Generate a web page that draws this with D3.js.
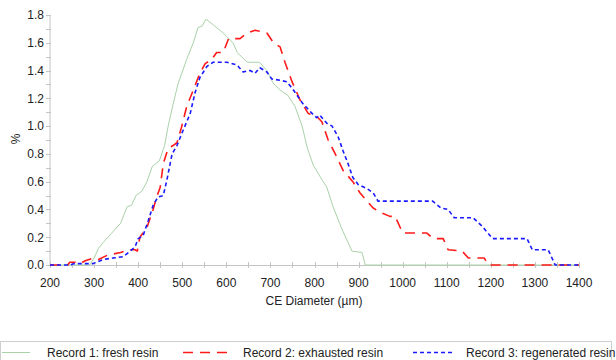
<!DOCTYPE html>
<html><head><meta charset="utf-8">
<script src="https://cdn.jsdelivr.net/npm/d3@7"></script>
<style>body{margin:0;background:#fff}svg{display:block;font-family:"Liberation Sans",Arial,sans-serif}</style>
</head><body><svg id="c" width="616" height="360"></svg>
<script>
const xTicks = [200,300,400,500,600,700,800,900,1000,1100,1200,1300,1400];
const yTicks = [0.0,0.2,0.4,0.6,0.8,1.0,1.2,1.4,1.6,1.8];
const seriesNames = ["Record 1: fresh resin","Record 2: exhausted resin","Record 3: regenerated resin"];

const freshD = [200,290,300,310,320,340,360,375,385,395,408,420,432,448,460,468,478,490,510,525,536,545,554,570,593,615,625,647,675,692,706,722,740,756,772,783,797,812,828,842,862,885,908,915,1400];
const freshV = [0,0,0.05,0.12,0.16,0.23,0.30,0.42,0.43,0.50,0.53,0.60,0.71,0.75,0.86,1.0,1.14,1.30,1.48,1.60,1.71,1.72,1.77,1.73,1.67,1.60,1.53,1.46,1.46,1.40,1.31,1.26,1.22,1.14,1.0,0.85,0.72,0.64,0.56,0.42,0.26,0.10,0.09,0,0];

const exhD = [200,240,245,262,268,280,298,310,330,360,378,393,398,404,420,434,442,450,457,468,479,488,499,510,525,540,552,567,578,593,605,631,647,665,681,692,707,722,733,749,767,786,805,817,831,847,865,887,903,919,933,949,971,983,1000,1055,1069,1092,1103,1135,1149,1185,1195,1400];
const exhV = [0,0,0.02,0.02,0.01,0.03,0.05,0.04,0.07,0.09,0.11,0.11,0.10,0.20,0.27,0.40,0.49,0.56,0.73,0.84,0.86,0.88,1.0,1.14,1.26,1.38,1.45,1.48,1.53,1.53,1.63,1.63,1.67,1.69,1.68,1.67,1.60,1.57,1.46,1.32,1.19,1.09,1.07,1.03,0.90,0.80,0.68,0.60,0.52,0.46,0.41,0.38,0.35,0.35,0.23,0.23,0.19,0.19,0.11,0.10,0.05,0.05,0,0];

const regD = [200,245,255,285,298,321,343,366,382,393,400,411,423,434,445,457,465,477,488,502,518,529,540,556,570,601,624,638,654,665,676,692,703,722,737,750,774,795,805,812,828,840,854,865,876,887,899,919,933,944,1068,1087,1103,1117,1160,1180,1204,1282,1294,1330,1346,1400];
const regV = [0,0,0.01,0.01,0.01,0.04,0.05,0.06,0.10,0.13,0.19,0.21,0.32,0.43,0.49,0.50,0.61,0.80,0.86,0.97,1.09,1.24,1.35,1.43,1.46,1.46,1.44,1.39,1.40,1.38,1.42,1.39,1.34,1.33,1.32,1.27,1.16,1.09,1.06,1.08,1.02,1.0,0.92,0.82,0.73,0.63,0.58,0.55,0.52,0.46,0.46,0.41,0.40,0.34,0.34,0.28,0.19,0.19,0.11,0.11,0,0];

const svg = d3.select("#c");
const x = d3.scaleLinear().domain([200,1400]).range([50,579]);
const y = d3.scaleLinear().domain([0,1.8]).range([265,15]);
const axisCol = "#c4c4c4", textCol = "#222";

// y axis
const gy = svg.append("g");
gy.append("line").attr("x1",x(200)).attr("x2",x(200)).attr("y1",y(0)).attr("y2",y(1.8)).attr("stroke",axisCol);
gy.selectAll(".yt").data(d3.range(0,19).map(i=>i*0.1)).enter().append("line")
  .attr("x1",46).attr("x2",51).attr("y1",d=>Math.round(y(d))+0.5).attr("y2",d=>Math.round(y(d))+0.5).attr("stroke",axisCol);
gy.selectAll(".yl").data(yTicks).enter().append("text")
  .attr("x",44).attr("y",d=>y(d)).attr("dy","0.36em").attr("text-anchor","end")
  .attr("font-size",12).attr("fill",textCol).text(d=>d.toFixed(1));

// x axis
const gx = svg.append("g");
gx.selectAll(".xt").data(d3.range(200,1401,50)).enter().append("line")
  .attr("x1",d=>Math.round(x(d))+0.5).attr("x2",d=>Math.round(x(d))+0.5).attr("y1",262).attr("y2",268).attr("stroke",axisCol);
gx.selectAll(".xl").data(xTicks).enter().append("text")
  .attr("x",d=>x(d)).attr("y",287).attr("text-anchor","middle")
  .attr("font-size",12).attr("fill",textCol).text(d=>d);

svg.append("text").attr("x",314).attr("y",305).attr("text-anchor","middle").attr("font-size",12).attr("fill",textCol).text("CE Diameter (µm)");
svg.append("text").attr("transform","translate(20,139) rotate(-90)").attr("text-anchor","middle").attr("font-size",12).attr("fill",textCol).text("%");

const line = d3.line().x(d=>x(d[0])).y(d=>y(d[1]));
const series = [
  {d:freshD, v:freshV, col:"#a9d2a9", w:1, dash:null},
  {d:exhD, v:exhV, col:"#ff1a1a", w:1.6, dash:"10,7"},
  {d:regD, v:regV, col:"#1a1aff", w:1.6, dash:"4,3"}
];
// x axis baseline drawn first
svg.append("line").attr("x1",x(200)).attr("x2",x(1400)).attr("y1",265.5).attr("y2",265.5).attr("stroke",axisCol);
series.forEach(s=>{
  svg.append("path").datum(s.d.map((d,i)=>[d,s.v[i]])).attr("d",line)
    .attr("fill","none").attr("stroke",s.col).attr("stroke-width",s.w)
    .attr("stroke-dasharray",s.dash).attr("stroke-linejoin","round");
});

// legend
svg.append("rect").attr("x",0.5).attr("y",341.5).attr("width",611).attr("height",30).attr("fill","none").attr("stroke","#cfcfcf");
const legX = [{l0:2,l1:30,t:47},{l0:183,l1:229,t:243},{l0:413,l1:453,t:466}];
series.forEach((s,i)=>{
  svg.append("line").attr("x1",legX[i].l0).attr("x2",legX[i].l1).attr("y1",352.5).attr("y2",352.5)
    .attr("stroke",s.col).attr("stroke-width",s.w).attr("stroke-dasharray",s.dash);
  svg.append("text").attr("x",legX[i].t).attr("y",356.5).attr("font-size",12).attr("fill",textCol).text(seriesNames[i]);
});
</script></body></html>
